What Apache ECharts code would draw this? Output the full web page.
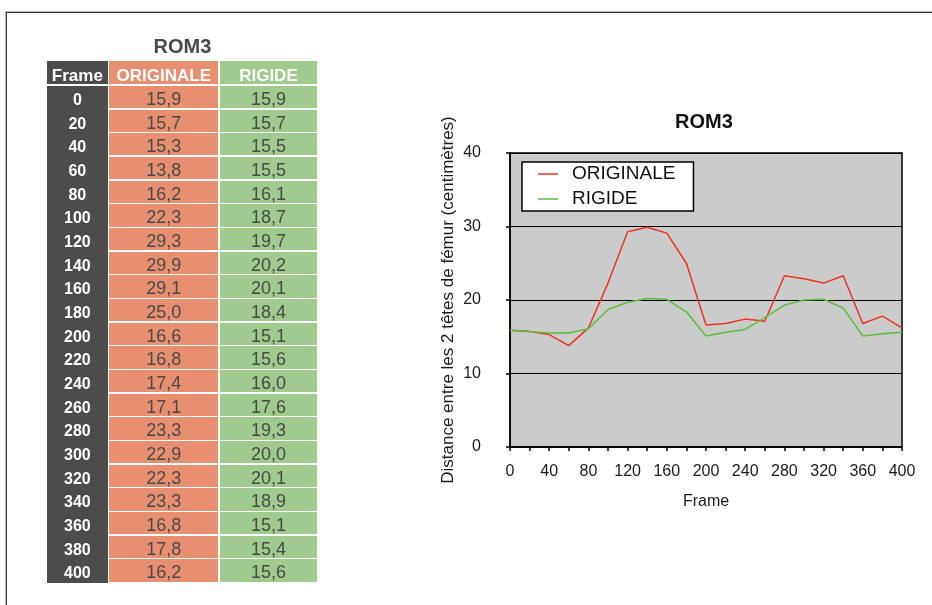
<!DOCTYPE html>
<html>
<head>
<meta charset="utf-8">
<script src="https://cdn.jsdelivr.net/npm/echarts@6/dist/echarts.min.js"></script>
<style>
	html, body { margin: 0; padding: 0; background: #fff; }
	#page { position: relative; width: 932px; height: 605px; overflow: hidden; font-family: 'Liberation Sans', Arial, sans-serif; }
	#frame { position: absolute; left: 6px; top: 12px; width: 940px; height: 700px; border-left: 1.5px solid #3a3a3a; border-top: 1.5px solid #3a3a3a; box-shadow: -1px -1px 0 #bbb; }
	#chart { position: absolute; left: 0; top: 0; width: 932px; height: 605px; }
	#table { position: absolute; left: 0; top: 0; width: 340px; height: 605px; z-index: 2; }
	.cell { position: absolute; box-sizing: border-box; text-align: center; }
</style>
</head>
<body>
<div id="page">
	<div id="frame"></div>
	<div id="chart"></div>
	<div id="table"></div>
</div>
<script>
var title = 'ROM3';
var frames = [0, 20, 40, 60, 80, 100, 120, 140, 160, 180, 200, 220, 240, 260, 280, 300, 320, 340, 360, 380, 400];
var originale = [15.9, 15.7, 15.3, 13.8, 16.2, 22.3, 29.3, 29.9, 29.1, 25.0, 16.6, 16.8, 17.4, 17.1, 23.3, 22.9, 22.3, 23.3, 16.8, 17.8, 16.2];
var rigide = [15.9, 15.7, 15.5, 15.5, 16.1, 18.7, 19.7, 20.2, 20.1, 18.4, 15.1, 15.6, 16.0, 17.6, 19.3, 20.0, 20.1, 18.9, 15.1, 15.4, 15.6];
var seriesNames = ['ORIGINALE', 'RIGIDE'];
var seriesColors = ['#ec3424', '#5fbd42'];

// ---- table (left) ----
var tbl = document.getElementById('table');
function addCell(x, y, w, h, bg, text, style, shift) {
	var d = document.createElement('div');
	d.className = 'cell';
	d.style.left = x + 'px';
	d.style.top = y + 'px';
	d.style.width = w + 'px';
	d.style.height = h + 'px';
	d.style.lineHeight = h + 'px';
	// texte un peu plus bas que le centre, comme dans l'original
	if (shift) d.style.paddingTop = shift + 'px';
	if (bg) d.style.background = bg;
	d.textContent = text;
	for (var k in style) d.style[k] = style[k];
	tbl.appendChild(d);
	return d;
}
function fmt(v) {
	return v.toFixed(1).replace('.', ',');
}
var dark = '#4b4c4b', salmon = '#e88f70', green = '#a1ca8f';
var colX = [47, 109.3, 219.7], colW = [60.7, 109, 97.5];
var headTop = 61, headH = 23, rowTop = 86, rowPitch = 23.67, gap = 1.5;

addCell(40, 34, 285, 24, null, title, {fontSize: '20px', fontWeight: 'bold', color: '#484848'});
var headStyle = {fontSize: '17px', fontWeight: 'bold', color: '#fff', overflow: 'hidden'};
addCell(colX[0], headTop, colW[0], headH, dark, 'Frame', headStyle, 3);
addCell(colX[1], headTop, colW[1], headH, salmon, seriesNames[0], headStyle, 3);
addCell(colX[2], headTop, colW[2], headH, green, seriesNames[1], headStyle, 3);
addCell(colX[0], rowTop, colW[0], rowPitch * frames.length - 0.5, dark, '', {});
for (var i = 0; i < frames.length; i++) {
	var y = rowTop + i * rowPitch;
	var h = rowPitch - gap;
	addCell(colX[0], y, colW[0], h, null, String(frames[i]), {fontSize: '16px', fontWeight: 'bold', color: '#fff'}, 3);
	addCell(colX[1], y, colW[1], h, salmon, fmt(originale[i]), {fontSize: '18px', color: '#4a4a4a', overflow: 'hidden'}, 2);
	addCell(colX[2], y, colW[2], h, green, fmt(rigide[i]), {fontSize: '18px', color: '#4a4a4a', overflow: 'hidden'}, 2);
}

// ---- chart (right) ----
var myChart = echarts.init(document.getElementById('chart'));
var origData = [], rigData = [];
for (var j = 0; j < frames.length; j++) {
	origData.push([frames[j], originale[j]]);
	rigData.push([frames[j], rigide[j]]);
}
var axisText = {color: '#1a1a1a', fontSize: 16, fontFamily: 'Liberation Sans'};
var option = {
	animation: false,
	textStyle: {fontFamily: 'Liberation Sans'},
	title: {
		text: title,
		left: 675,
		top: 112,
		padding: 0,
		textStyle: {fontSize: 20, fontWeight: 'bold', color: '#111', fontFamily: 'Liberation Sans'}
	},
	legend: {
		orient: 'vertical',
		left: 522,
		top: 162,
		padding: [2, 18, 2, 16],
		itemGap: 5,
		itemWidth: 20,
		itemHeight: 1.5,
		icon: 'rect',
		backgroundColor: '#fff',
		borderColor: '#000',
		borderWidth: 1.5,
		borderRadius: 0,
		data: seriesNames,
		textStyle: {fontSize: 19, lineHeight: 20, color: '#111', padding: [0, 0, 0, 9], fontFamily: 'Liberation Sans'}
	},
	grid: {
		left: 510,
		right: 30,
		top: 153,
		bottom: 158,
		show: true,
		backgroundColor: '#cbcbcb',
		borderColor: '#000',
		borderWidth: 1.5
	},
	xAxis: {
		type: 'value',
		min: 0,
		max: 400,
		interval: 20,
		name: 'Frame',
		nameLocation: 'middle',
		nameGap: 47,
		nameTextStyle: {fontSize: 16, color: '#1a1a1a'},
		axisLine: {lineStyle: {color: '#000', width: 1.5}},
		axisTick: {length: 4, lineStyle: {color: '#000', width: 1.5}},
		axisLabel: Object.assign({
			margin: 17,
			formatter: function (v) { return v % 40 === 0 ? String(v) : ''; }
		}, axisText),
		splitLine: {show: false}
	},
	yAxis: {
		type: 'value',
		min: 0,
		max: 40,
		interval: 10,
		name: 'Distance entre les 2 têtes de fémur (centimètres)',
		nameLocation: 'middle',
		nameGap: 53,
		nameTextStyle: {fontSize: 17, color: '#1a1a1a'},
		axisLine: {show: true, lineStyle: {color: '#000', width: 1.5}},
		axisTick: {show: true, length: 4, lineStyle: {color: '#000', width: 1.5}},
		axisLabel: Object.assign({margin: 29}, axisText),
		splitLine: {lineStyle: {color: '#000', width: 1.2}}
	},
	series: [
		{
			name: seriesNames[0],
			type: 'line',
			symbol: 'none',
			color: seriesColors[0],
			lineStyle: {width: 1.5},
			data: origData
		},
		{
			name: seriesNames[1],
			type: 'line',
			symbol: 'none',
			color: seriesColors[1],
			lineStyle: {width: 1.5},
			data: rigData
		}
	]
};
myChart.setOption(option);
</script>
</body>
</html>
